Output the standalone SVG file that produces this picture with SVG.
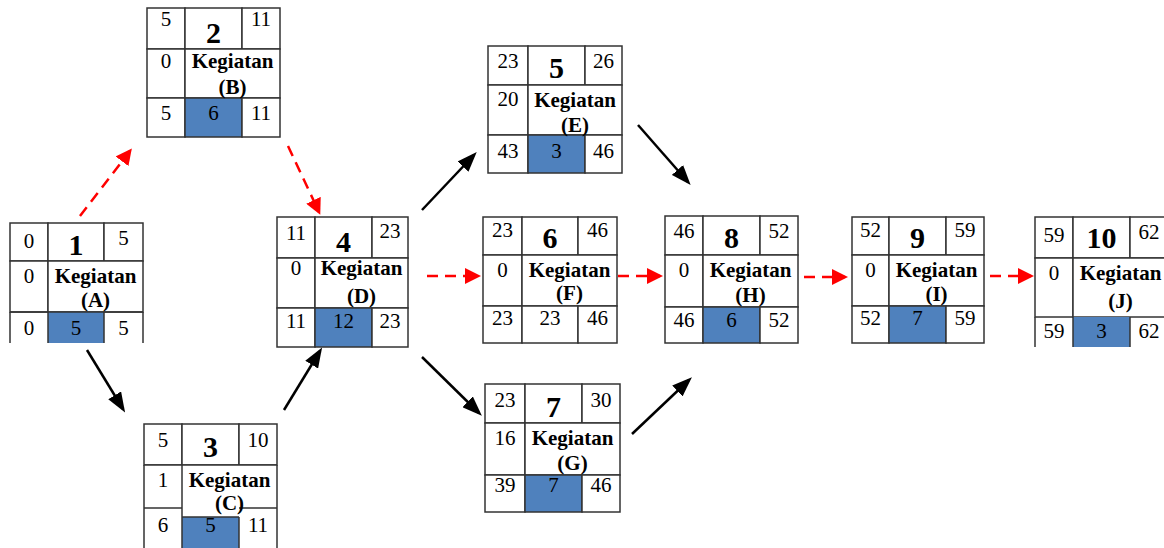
<svg xmlns="http://www.w3.org/2000/svg" width="1164" height="548" viewBox="0 0 1164 548">
<defs>
<style>
.c{fill:#fff;stroke:#333;stroke-width:1.5}
.b{fill:#4f81bd;stroke:#333;stroke-width:1.5}
.bn{fill:#4f81bd;stroke:none}
.wn{fill:#fff;stroke:none}
.ln{fill:none;stroke:#333;stroke-width:1.5}
text{font-family:"Liberation Serif","Times New Roman",serif;font-size:21px;text-anchor:middle;fill:#000}
.id{font-size:30px;font-weight:bold}
.k{font-size:21px;font-weight:bold}
.blk{stroke:#000;stroke-width:2.5;fill:none}
.red{stroke:#ff0000;stroke-width:2.5;fill:none;stroke-dasharray:11 7}
</style>
<marker id="ab" markerUnits="userSpaceOnUse" markerWidth="20" markerHeight="15" refX="16" refY="7.5" orient="auto"><path d="M0,0 L20,7.5 L0,15 z" fill="#000"/></marker>
<marker id="ar" markerUnits="userSpaceOnUse" markerWidth="16" markerHeight="16" refX="13" refY="8" orient="auto"><path d="M0,0 L16,8 L0,16 z" fill="#ff0000"/></marker>
</defs>
<rect width="1164" height="548" fill="#fff"/>

<g id="connectors">
<line class="red" x1="80" y1="216" x2="130" y2="151" marker-end="url(#ar)"/>
<line class="red" x1="288" y1="146" x2="319" y2="212" marker-end="url(#ar)"/>
<line class="blk" x1="87" y1="350" x2="123" y2="409" marker-end="url(#ab)"/>
<line class="blk" x1="284" y1="410" x2="320" y2="351" marker-end="url(#ab)"/>
<line class="blk" x1="422" y1="210" x2="474" y2="155" marker-end="url(#ab)"/>
<line class="red" x1="427" y1="276" x2="478" y2="276" marker-end="url(#ar)"/>
<line class="blk" x1="422" y1="357" x2="479" y2="413" marker-end="url(#ab)"/>
<line class="blk" x1="638" y1="125" x2="688" y2="182" marker-end="url(#ab)"/>
<line class="red" x1="618" y1="276" x2="660" y2="276" marker-end="url(#ar)"/>
<line class="blk" x1="632" y1="434" x2="689" y2="380" marker-end="url(#ab)"/>
<line class="red" x1="804" y1="277" x2="845" y2="277" marker-end="url(#ar)"/>
<line class="red" x1="990" y1="276" x2="1031" y2="276" marker-end="url(#ar)"/>
</g>

<g id="node1" transform="translate(10,223)">
<rect class="c" x="0" y="0" width="38" height="38"/>
<rect class="c" x="38" y="0" width="56" height="38"/>
<rect class="c" x="94" y="0" width="39" height="38"/>
<rect class="c" x="0" y="38" width="38" height="51"/>
<rect class="c" x="38" y="38" width="95" height="51"/>
<rect class="bn" x="38" y="89" width="56" height="31"/>
<path class="ln" d="M0,89 V120 M38,89 V120 M94,89 V120 M133,89 V120 M0,89 H133"/>
<text x="19" y="25">0</text>
<text class="id" x="66" y="32">1</text>
<text x="113.5" y="22">5</text>
<text x="19" y="60">0</text>
<text class="k" x="85.5" y="60">Kegiatan</text>
<text class="k" x="85.5" y="84">(A)</text>
<text x="19" y="112">0</text>
<text x="66" y="112">5</text>
<text x="113.5" y="112">5</text>
</g>

<g id="node2" transform="translate(147,8)">
<rect class="c" x="0" y="0" width="38" height="41"/>
<rect class="c" x="38" y="0" width="57" height="41"/>
<rect class="c" x="95" y="0" width="38" height="41"/>
<rect class="c" x="0" y="41" width="38" height="49"/>
<rect class="c" x="38" y="41" width="95" height="49"/>
<rect class="c" x="0" y="90" width="38" height="39"/>
<rect class="b" x="38" y="90" width="57" height="39"/>
<rect class="c" x="95" y="90" width="38" height="39"/>
<text x="19" y="18">5</text>
<text class="id" x="66.5" y="35">2</text>
<text x="114" y="18">11</text>
<text x="19" y="60">0</text>
<text class="k" x="85.5" y="60">Kegiatan</text>
<text class="k" x="85.5" y="86">(B)</text>
<text x="19" y="112">5</text>
<text x="66.5" y="112">6</text>
<text x="114" y="112">11</text>
</g>

<g id="node3" transform="translate(144,424)">
<rect class="c" x="0" y="0" width="38" height="41"/>
<rect class="c" x="38" y="0" width="57" height="41"/>
<rect class="c" x="95" y="0" width="38" height="41"/>
<rect class="wn" x="0" y="41" width="133" height="52"/>
<rect class="bn" x="38" y="93" width="57" height="40"/>
<path class="ln" d="M0,41 H133 M0,41 V130 M38,41 V130 M95,93 V130 M133,41 V130 M0,84 H38 M95,84 H133 M38,93 H95"/>
<text x="19" y="23">5</text>
<text class="id" x="66.5" y="33">3</text>
<text x="114" y="23">10</text>
<text x="19" y="63">1</text>
<text class="k" x="85.5" y="63">Kegiatan</text>
<text class="k" x="85.5" y="86">(C)</text>
<text x="19" y="108">6</text>
<text x="66.5" y="108">5</text>
<text x="114" y="108">11</text>
</g>

<g id="node4" transform="translate(277,217)">
<rect class="c" x="0" y="0" width="38" height="41"/>
<rect class="c" x="38" y="0" width="57" height="41"/>
<rect class="c" x="95" y="0" width="36" height="41"/>
<rect class="c" x="0" y="41" width="38" height="50"/>
<rect class="c" x="38" y="41" width="93" height="50"/>
<rect class="c" x="0" y="91" width="38" height="39"/>
<rect class="b" x="38" y="91" width="57" height="39"/>
<rect class="c" x="95" y="91" width="36" height="39"/>
<text x="19" y="23">11</text>
<text class="id" x="66.5" y="35">4</text>
<text x="113" y="21">23</text>
<text x="19" y="58">0</text>
<text class="k" x="84.5" y="58">Kegiatan</text>
<text class="k" x="84.5" y="86">(D)</text>
<text x="19" y="111">11</text>
<text x="66.5" y="111">12</text>
<text x="113" y="111">23</text>
</g>

<g id="node5" transform="translate(488,46)">
<rect class="c" x="0" y="0" width="40" height="39"/>
<rect class="c" x="40" y="0" width="57" height="39"/>
<rect class="c" x="97" y="0" width="37" height="39"/>
<rect class="c" x="0" y="39" width="40" height="50"/>
<rect class="c" x="40" y="39" width="94" height="50"/>
<rect class="c" x="0" y="89" width="40" height="38"/>
<rect class="b" x="40" y="89" width="57" height="38"/>
<rect class="c" x="97" y="89" width="37" height="38"/>
<text x="20" y="22">23</text>
<text class="id" x="68.5" y="32">5</text>
<text x="115.5" y="22">26</text>
<text x="20" y="60">20</text>
<text class="k" x="87" y="61">Kegiatan</text>
<text class="k" x="87" y="86">(E)</text>
<text x="20" y="112">43</text>
<text x="68.5" y="112">3</text>
<text x="115.5" y="112">46</text>
</g>

<g id="node6" transform="translate(483,217)">
<rect class="c" x="0" y="0" width="39" height="38"/>
<rect class="c" x="39" y="0" width="56" height="38"/>
<rect class="c" x="95" y="0" width="39" height="38"/>
<rect class="c" x="0" y="38" width="39" height="51"/>
<rect class="c" x="39" y="38" width="95" height="51"/>
<rect class="c" x="0" y="89" width="39" height="37"/>
<rect class="c" x="39" y="89" width="56" height="37"/>
<rect class="c" x="95" y="89" width="39" height="37"/>
<text x="19.5" y="20">23</text>
<text class="id" x="67" y="31">6</text>
<text x="114.5" y="20">46</text>
<text x="19.5" y="60">0</text>
<text class="k" x="86.5" y="60">Kegiatan</text>
<text class="k" x="86.5" y="83">(F)</text>
<text x="19.5" y="108">23</text>
<text x="67" y="108">23</text>
<text x="114.5" y="108">46</text>
</g>

<g id="node7" transform="translate(485,384)">
<rect class="c" x="0" y="0" width="40" height="39"/>
<rect class="c" x="40" y="0" width="57" height="39"/>
<rect class="c" x="97" y="0" width="38" height="39"/>
<rect class="c" x="0" y="39" width="40" height="52"/>
<rect class="c" x="40" y="39" width="95" height="52"/>
<rect class="c" x="0" y="91" width="40" height="37"/>
<rect class="b" x="40" y="91" width="57" height="37"/>
<rect class="c" x="97" y="91" width="38" height="37"/>
<text x="20" y="23">23</text>
<text class="id" x="68.5" y="33">7</text>
<text x="116" y="23">30</text>
<text x="20" y="61">16</text>
<text class="k" x="87.5" y="61">Kegiatan</text>
<text class="k" x="87.5" y="86">(G)</text>
<text x="20" y="108">39</text>
<text x="68.5" y="108">7</text>
<text x="116" y="108">46</text>
</g>

<g id="node8" transform="translate(665,216)">
<rect class="c" x="0" y="0" width="38" height="39"/>
<rect class="c" x="38" y="0" width="57" height="39"/>
<rect class="c" x="95" y="0" width="38" height="39"/>
<rect class="c" x="0" y="39" width="38" height="52"/>
<rect class="c" x="38" y="39" width="95" height="52"/>
<rect class="c" x="0" y="91" width="38" height="36"/>
<rect class="b" x="38" y="91" width="57" height="36"/>
<rect class="c" x="95" y="91" width="38" height="36"/>
<text x="19" y="22">46</text>
<text class="id" x="66.5" y="32">8</text>
<text x="114" y="22">52</text>
<text x="19" y="61">0</text>
<text class="k" x="85.5" y="61">Kegiatan</text>
<text class="k" x="85.5" y="86">(H)</text>
<text x="19" y="111">46</text>
<text x="66.5" y="111">6</text>
<text x="114" y="111">52</text>
</g>

<g id="node9" transform="translate(852,217)">
<rect class="c" x="0" y="0" width="37" height="38"/>
<rect class="c" x="37" y="0" width="57" height="38"/>
<rect class="c" x="94" y="0" width="38" height="38"/>
<rect class="c" x="0" y="38" width="37" height="51"/>
<rect class="c" x="37" y="38" width="95" height="51"/>
<rect class="c" x="0" y="89" width="37" height="37"/>
<rect class="b" x="37" y="89" width="57" height="37"/>
<rect class="c" x="94" y="89" width="38" height="37"/>
<text x="18.5" y="20">52</text>
<text class="id" x="65.5" y="31">9</text>
<text x="113" y="20">59</text>
<text x="18.5" y="60">0</text>
<text class="k" x="84.5" y="60">Kegiatan</text>
<text class="k" x="84.5" y="84">(I)</text>
<text x="18.5" y="108">52</text>
<text x="65.5" y="108">7</text>
<text x="113" y="108">59</text>
</g>

<g id="node10" transform="translate(1035,217)">
<rect class="c" x="0" y="0" width="38" height="41"/>
<rect class="c" x="38" y="0" width="57" height="41"/>
<rect class="c" x="95" y="0" width="38" height="41"/>
<rect class="c" x="0" y="41" width="38" height="59"/>
<rect class="c" x="38" y="41" width="95" height="59"/>
<rect class="bn" x="38" y="100" width="57" height="30"/>
<path class="ln" d="M0,100 V130 M38,100 V130 M95,100 V130 M133,100 V130"/>
<text x="19" y="25">59</text>
<text class="id" x="66.5" y="31">10</text>
<text x="114" y="22">62</text>
<text x="19" y="63">0</text>
<text class="k" x="85.5" y="63">Kegiatan</text>
<text class="k" x="85.5" y="91">(J)</text>
<text x="19" y="121">59</text>
<text x="66.5" y="121">3</text>
<text x="114" y="121">62</text>
</g>
</svg>
